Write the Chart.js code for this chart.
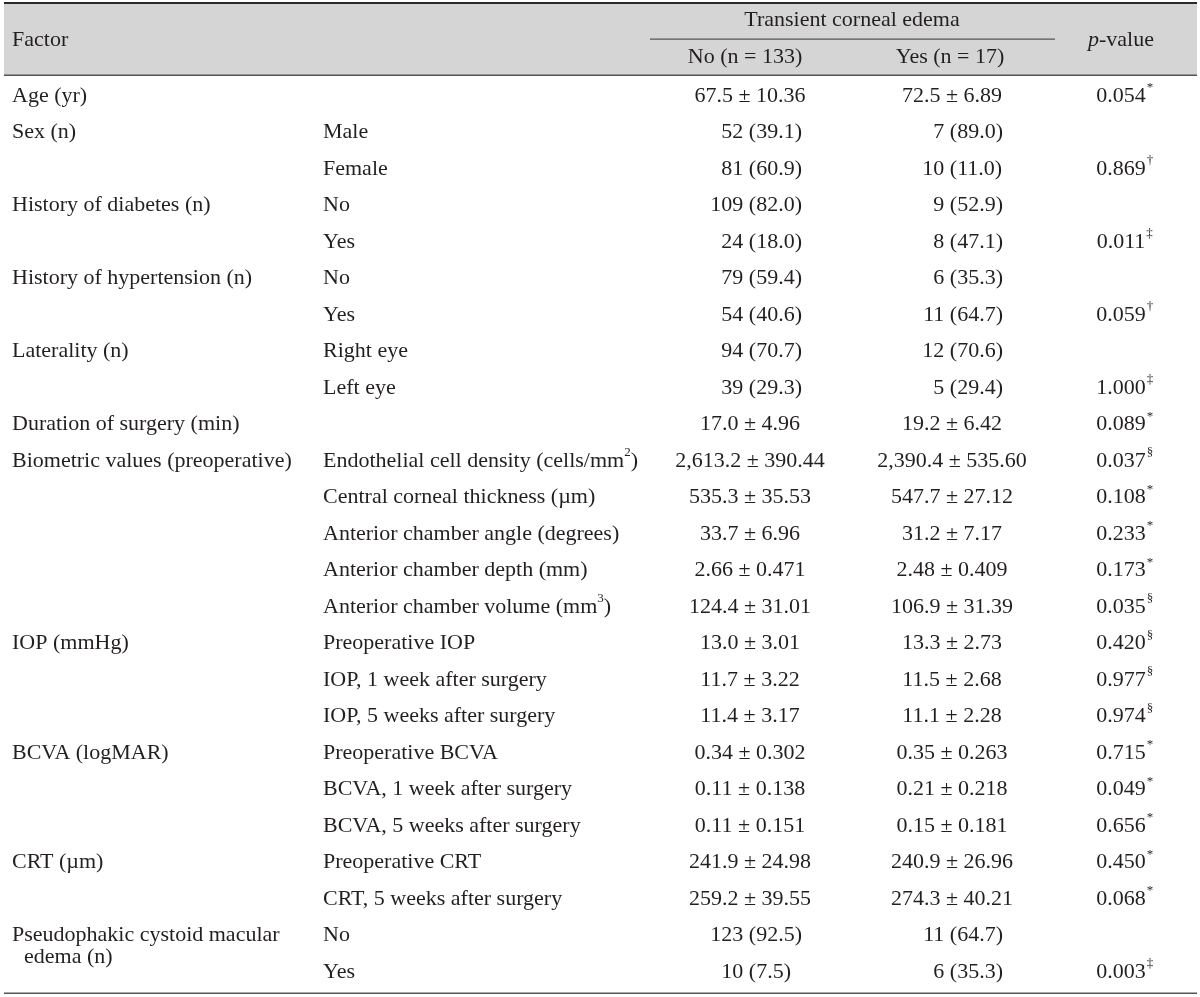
<!DOCTYPE html>
<html>
<head>
<meta charset="utf-8">
<title>Transient corneal edema</title>
<script src="https://cdn.jsdelivr.net/npm/chart.js@4.4.1/dist/chart.umd.min.js"></script>
<style>
  body { margin: 0; background: #fff; }
  #wrap { width: 1200px; height: 997px; position: relative; }
</style>
</head>
<body>
<div id="wrap"><canvas id="table-chart"></canvas></div>
<script>
// one entry per table row; '^' marks the next character as superscript
var factors = [
  'Age (yr)', 'Sex (n)', '', 'History of diabetes (n)', '', 'History of hypertension (n)', '',
  'Laterality (n)', '', 'Duration of surgery (min)', 'Biometric values (preoperative)', '', '', '', '',
  'IOP (mmHg)', '', '', 'BCVA (logMAR)', '', '', 'CRT (\u00b5m)', '',
  'Pseudophakic cystoid macular|edema (n)', ''
];
var subFactors = [
  '', 'Male', 'Female', 'No', 'Yes', 'No', 'Yes', 'Right eye', 'Left eye', '',
  'Endothelial cell density (cells/mm^2)', 'Central corneal thickness (\u00b5m)',
  'Anterior chamber angle (degrees)', 'Anterior chamber depth (mm)', 'Anterior chamber volume (mm^3)',
  'Preoperative IOP', 'IOP, 1 week after surgery', 'IOP, 5 weeks after surgery',
  'Preoperative BCVA', 'BCVA, 1 week after surgery', 'BCVA, 5 weeks after surgery',
  'Preoperative CRT', 'CRT, 5 weeks after surgery', 'No', 'Yes'
];
var noEdema = [
  '67.5 \u00b1 10.36', '52 (39.1)', '81 (60.9)', '109 (82.0)', '24 (18.0)', '79 (59.4)', '54 (40.6)',
  '94 (70.7)', '39 (29.3)', '17.0 \u00b1 4.96', '2,613.2 \u00b1 390.44', '535.3 \u00b1 35.53',
  '33.7 \u00b1 6.96', '2.66 \u00b1 0.471', '124.4 \u00b1 31.01', '13.0 \u00b1 3.01', '11.7 \u00b1 3.22',
  '11.4 \u00b1 3.17', '0.34 \u00b1 0.302', '0.11 \u00b1 0.138', '0.11 \u00b1 0.151', '241.9 \u00b1 24.98',
  '259.2 \u00b1 39.55', '123 (92.5)', '10 (7.5)'
];
var yesEdema = [
  '72.5 \u00b1 6.89', '7 (89.0)', '10 (11.0)', '9 (52.9)', '8 (47.1)', '6 (35.3)', '11 (64.7)',
  '12 (70.6)', '5 (29.4)', '19.2 \u00b1 6.42', '2,390.4 \u00b1 535.60', '547.7 \u00b1 27.12',
  '31.2 \u00b1 7.17', '2.48 \u00b1 0.409', '106.9 \u00b1 31.39', '13.3 \u00b1 2.73', '11.5 \u00b1 2.68',
  '11.1 \u00b1 2.28', '0.35 \u00b1 0.263', '0.21 \u00b1 0.218', '0.15 \u00b1 0.181', '240.9 \u00b1 26.96',
  '274.3 \u00b1 40.21', '11 (64.7)', '6 (35.3)'
];
var pValues = [
  '0.054', '', '0.869', '', '0.011', '', '0.059', '', '1.000', '0.089', '0.037', '0.108',
  '0.233', '0.173', '0.035', '0.420', '0.977', '0.974', '0.715', '0.049', '0.656', '0.450',
  '0.068', '', '0.003'
];
var pMarks = [
  '*', '', '\u2020', '', '\u2021', '', '\u2020', '', '\u2021', '*', '\u00a7', '*',
  '*', '*', '\u00a7', '\u00a7', '\u00a7', '\u00a7', '*', '*', '*', '*',
  '*', '', '\u2021'
];
var headTitle = 'Transient corneal edema';
var headNo = 'No (n = 133)';
var headYes = 'Yes (n = 17)';

var FONT = '22px "Liberation Serif", "Times New Roman", serif';
var SUP = '13px "Liberation Serif", "Times New Roman", serif';
var INK = '#231f20';

function drawRich(ctx, str, x, y, align) {
  // split into normal / superscript parts
  var parts = [];
  for (var i = 0; i < str.length; i++) {
    if (str[i] === '^' && i + 1 < str.length) {
      parts.push({ t: str[i + 1], sup: true });
      i++;
    } else if (parts.length && !parts[parts.length - 1].sup) {
      parts[parts.length - 1].t += str[i];
    } else {
      parts.push({ t: str[i], sup: false });
    }
  }
  var w = 0;
  parts.forEach(function (p) {
    ctx.font = p.sup ? SUP : FONT;
    p.w = ctx.measureText(p.t).width;
    w += p.w;
  });
  var cx = x;
  if (align === 'center') cx = x - w / 2;
  if (align === 'right') cx = x - w;
  ctx.textAlign = 'left';
  parts.forEach(function (p) {
    ctx.font = p.sup ? SUP : FONT;
    ctx.fillText(p.t, cx, p.sup ? y - 8 : y);
    cx += p.w;
  });
}

// counts like "94 (70.7)" line up on the opening bracket
function drawCount(ctx, str, rightEdge, y) {
  var k = str.indexOf('(');
  ctx.font = FONT;
  var pos = rightEdge - ctx.measureText('(00.0)').width;
  ctx.textAlign = 'right';
  ctx.fillText(str.slice(0, k), pos, y);
  ctx.textAlign = 'left';
  ctx.fillText(str.slice(k), pos, y);
}

function drawValue(ctx, str, center, rightEdge, y) {
  if (!str) return;
  if (str.indexOf('\u00b1') >= 0) {
    ctx.font = FONT;
    ctx.textAlign = 'center';
    ctx.fillText(str, center, y);
  } else {
    drawCount(ctx, str, rightEdge, y);
  }
}

var tablePlugin = {
  id: 'tablePlugin',
  afterDraw: function (chart) {
    var ctx = chart.ctx;
    var xs = chart.scales.x;
    var ys = chart.scales.y;
    var X = function (v) { return xs.getPixelForValue(v); };
    var Y = function (v) { return ys.getPixelForValue(v); };
    ctx.save();

    // header band
    ctx.fillStyle = '#d5d5d5';
    ctx.fillRect(X(4), Y(-2.55), X(1197) - X(4), Y(-0.57) - Y(-2.55));

    ctx.strokeStyle = '#2a2a2a';
    ctx.lineWidth = 2;
    ctx.beginPath(); ctx.moveTo(X(4), Y(-2.55)); ctx.lineTo(X(1197), Y(-2.55)); ctx.stroke();
    ctx.strokeStyle = '#555';
    ctx.lineWidth = 1.5;
    ctx.beginPath(); ctx.moveTo(X(4), Y(-0.57)); ctx.lineTo(X(1197), Y(-0.57)); ctx.stroke();
    ctx.beginPath(); ctx.moveTo(X(4), Y(24.58)); ctx.lineTo(X(1197), Y(24.58)); ctx.stroke();
    ctx.lineWidth = 1.2;
    ctx.beginPath(); ctx.moveTo(X(650), Y(-1.56)); ctx.lineTo(X(1055), Y(-1.56)); ctx.stroke();

    ctx.fillStyle = INK;
    ctx.textBaseline = 'middle';
    ctx.font = FONT;
    ctx.textAlign = 'left';
    ctx.fillText('Factor', X(12), Y(-1.53));
    ctx.textAlign = 'center';
    ctx.fillText(headTitle, X(852), Y(-2.08));
    ctx.fillText(headNo, X(745), Y(-1.07));
    ctx.fillText(headYes, X(950), Y(-1.07));
    // p-value with italic p
    ctx.font = 'italic ' + FONT;
    var pw = ctx.measureText('p').width;
    ctx.font = FONT;
    var vw = ctx.measureText('-value').width;
    var px = X(1121) - (pw + vw) / 2;
    ctx.textAlign = 'left';
    ctx.font = 'italic ' + FONT;
    ctx.fillText('p', px, Y(-1.53));
    ctx.font = FONT;
    ctx.fillText('-value', px + pw, Y(-1.53));

    for (var i = 0; i < subFactors.length; i++) {
      var y = Y(i);
      ctx.fillStyle = INK;
      if (factors[i]) {
        var lines = factors[i].split('|');
        drawRich(ctx, lines[0], X(12), y, 'left');
        if (lines[1]) drawRich(ctx, lines[1], X(24), Y(i + 0.6), 'left');
      }
      if (subFactors[i]) drawRich(ctx, subFactors[i], X(323), y, 'left');
      drawValue(ctx, noEdema[i], X(750), X(802), y);
      drawValue(ctx, yesEdema[i], X(952), X(1003), y);
      if (pValues[i]) {
        ctx.font = FONT;
        ctx.textAlign = 'center';
        ctx.fillText(pValues[i], X(1121), y);
        var half = ctx.measureText(pValues[i]).width / 2;
        ctx.font = SUP;
        ctx.textAlign = 'left';
        ctx.fillText(pMarks[i], X(1121) + half + 1, y - 8);
      }
    }
    ctx.restore();
  }
};

var rowStep = 36.5;
var firstRow = 96;

new Chart(document.getElementById('table-chart').getContext('2d'), {
  type: 'scatter',
  data: { datasets: [] },
  options: {
    responsive: true,
    maintainAspectRatio: false,
    animation: false,
    layout: { padding: 0 },
    plugins: { legend: { display: false }, tooltip: { enabled: false } },
    scales: {
      x: { type: 'linear', min: 0, max: 1200, display: false },
      y: {
        type: 'linear',
        reverse: true,
        min: -firstRow / rowStep,
        max: (997 - firstRow) / rowStep,
        display: false
      }
    }
  },
  plugins: [tablePlugin]
});
</script>
</body>
</html>
